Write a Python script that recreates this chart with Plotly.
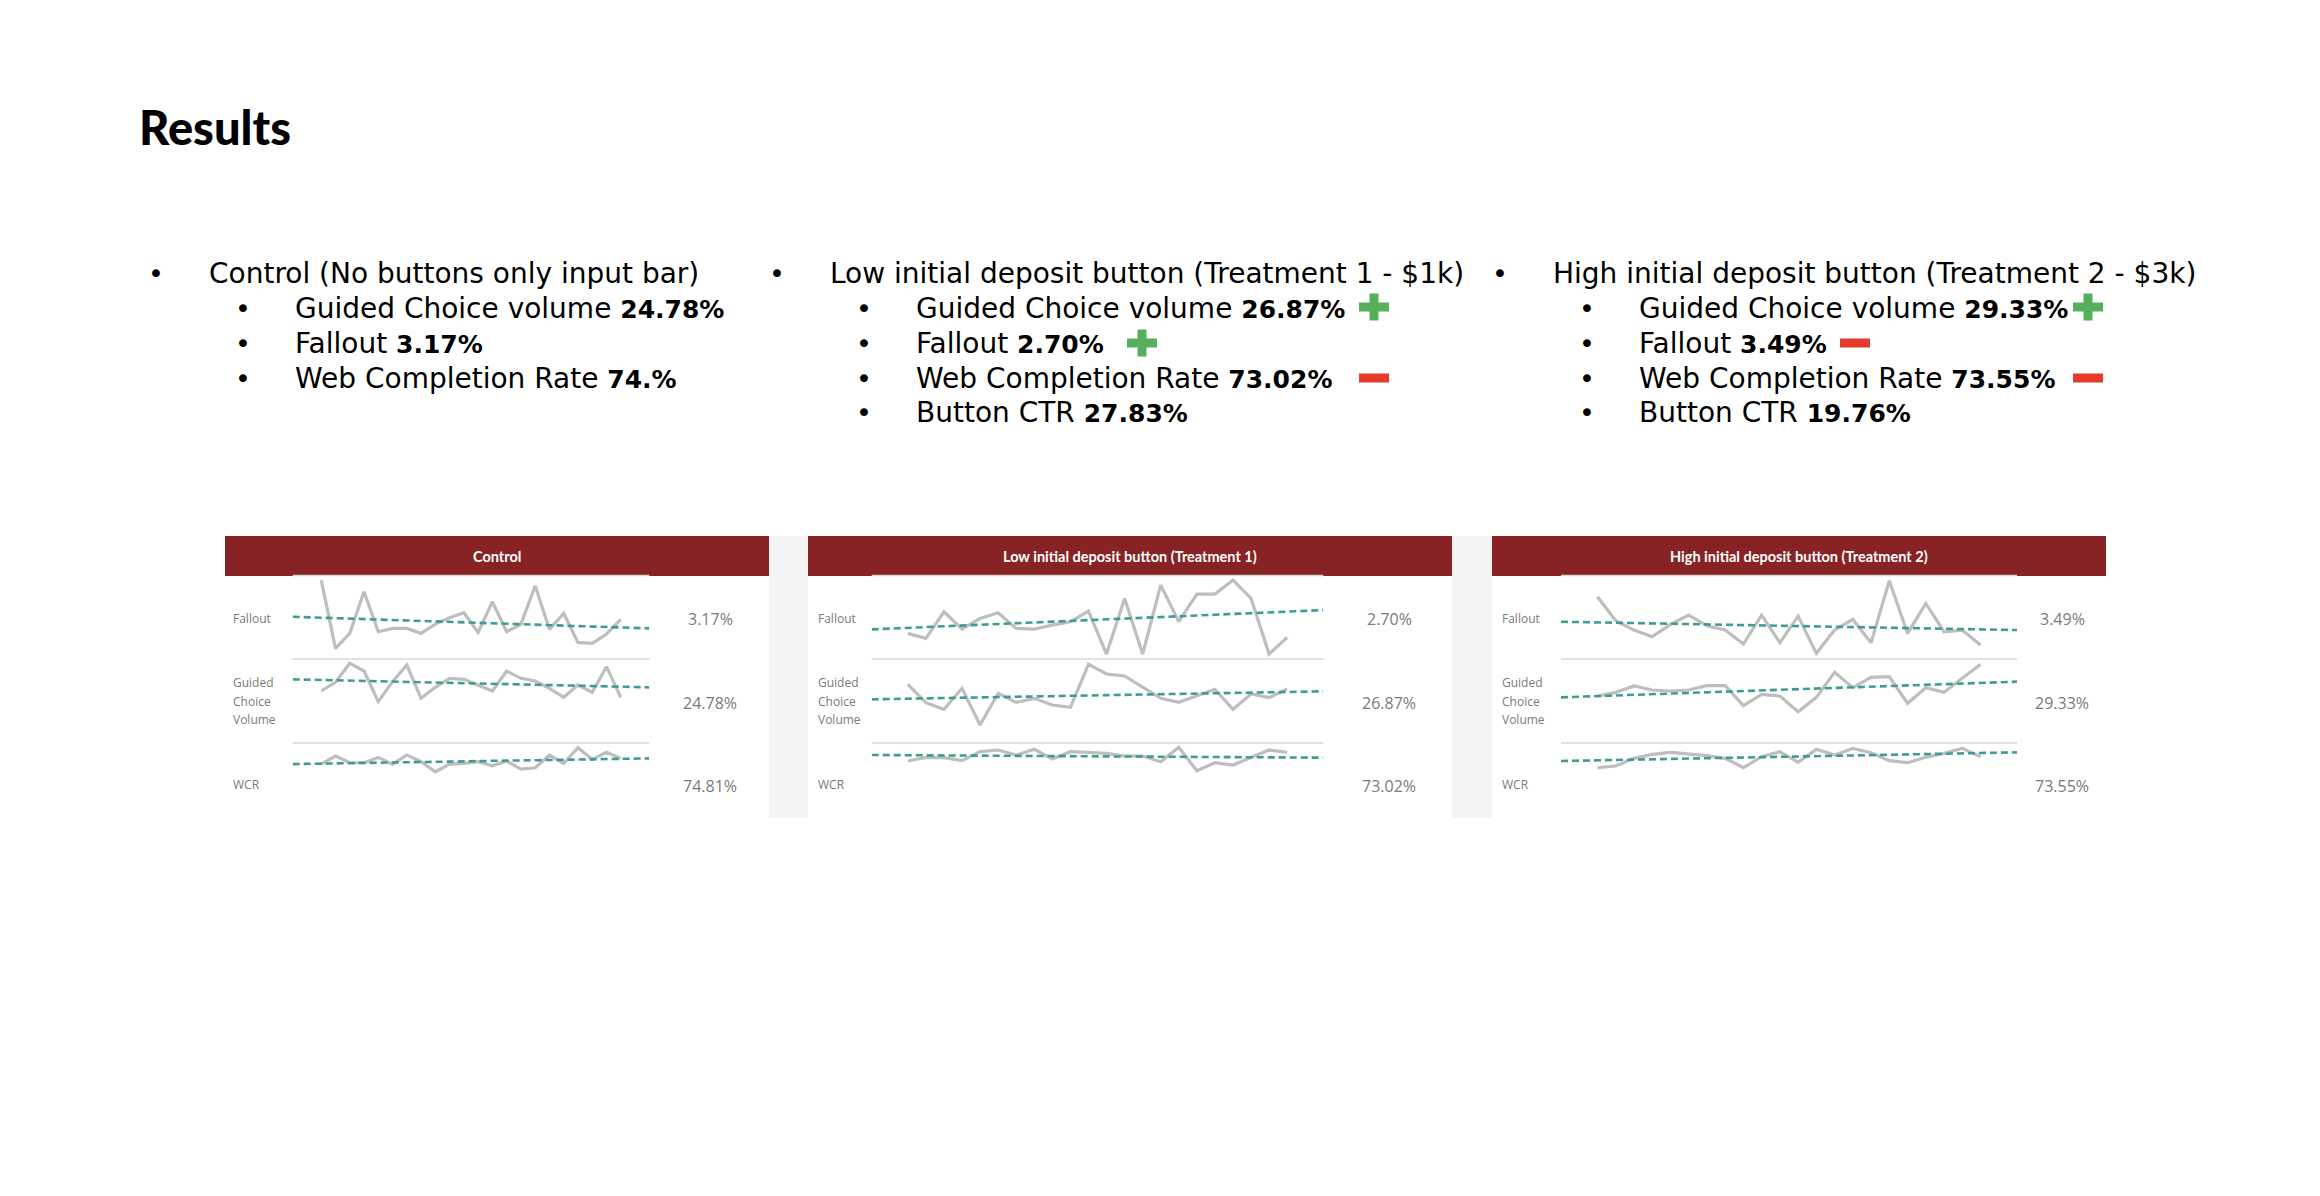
import plotly.graph_objects as go

# page size; the html body keeps its default 8px margin
W, H = 2320, 1196
PAD = 8


def px(x):
    return (x - PAD) / (W - 2 * PAD)


def py(y):
    return 1 - (y - PAD) / (H - 2 * PAD)


# ---- data -----------------------------------------------------------------
days = list(range(1, 23))
x_range = [-1, 24]

fallout_ctrl = [5.70, 1.60, 2.50, 5.00, 2.60, 2.80, 2.80, 2.50, 3.06, 3.44, 3.74,
                2.56, 4.40, 2.60, 3.04, 5.36, 2.74, 3.70, 1.96, 1.90, 2.46, 3.34]
gcv_ctrl = [24.34, 24.86, 26.00, 25.54, 23.70, 24.90, 25.90, 23.90, 24.56, 25.10, 25.04,
            24.70, 24.34, 25.54, 25.10, 24.94, 24.50, 23.96, 24.70, 24.26, 25.80, 23.96]
wcr_ctrl = [74.76, 75.24, 74.84, 74.84, 75.16, 74.74, 75.30, 74.90, 74.30, 74.76, 74.80,
            74.90, 74.66, 74.94, 74.46, 74.54, 75.30, 74.80, 75.74, 75.04, 75.46, 75.10]

fallout_t1 = [1.90, 1.60, 3.20, 2.16, 2.80, 3.14, 2.20, 2.16, 2.40, 2.60, 3.24,
              0.66, 4.00, 0.66, 4.80, 2.60, 4.26, 4.26, 5.10, 4.00, 0.66, 1.66]
gcv_t1 = [27.54, 26.44, 26.04, 27.30, 25.10, 27.00, 26.46, 26.70, 26.30, 26.16, 28.74,
          28.16, 28.04, 27.36, 26.70, 26.46, 26.84, 27.24, 26.04, 26.96, 26.74, 27.26]
wcr_t1 = [72.74, 72.96, 72.94, 72.76, 73.30, 73.40, 73.10, 73.44, 72.86, 73.30, 73.26,
          73.20, 73.04, 73.04, 72.70, 73.56, 72.16, 72.64, 72.50, 72.96, 73.40, 73.26]

fallout_t2 = [5.25, 3.81, 3.25, 2.85, 3.59, 4.15, 3.51, 3.25, 2.41, 4.15, 2.49,
              4.09, 1.85, 3.25, 3.89, 2.49, 6.21, 3.05, 4.85, 3.15, 3.25, 2.35]
gcv_t2 = [28.94, 29.16, 29.54, 29.30, 29.24, 29.30, 29.56, 29.56, 28.36, 29.04, 28.94,
          28.00, 28.86, 30.36, 29.44, 30.06, 30.10, 28.50, 29.44, 29.16, 30.00, 30.84]
wcr_t2 = [72.89, 72.99, 73.45, 73.69, 73.81, 73.71, 73.61, 73.45, 72.89, 73.55, 73.85,
          73.21, 73.99, 73.65, 74.05, 73.79, 73.31, 73.19, 73.51, 73.75, 74.05, 73.55]

# trend line values at the two ends of the x range
fallout_ctrl_trend = [3.50, 2.80]
gcv_ctrl_trend = [25.04, 24.56]
wcr_ctrl_trend = [74.76, 75.10]
fallout_t1_trend = [2.14, 3.30]
gcv_t1_trend = [26.64, 27.12]
wcr_t1_trend = [73.10, 72.94]
fallout_t2_trend = [3.75, 3.25]
gcv_t2_trend = [28.86, 29.80]
wcr_t2_trend = [73.29, 73.81]

panel_titles = ["Control", "Low initial deposit button (Treatment 1)",
                "High initial deposit button (Treatment 2)"]
row_labels = [["Fallout"], ["Guided", "Choice", "Volume"], ["WCR"]]
panel_values = [["3.17%", "24.78%", "74.81%"],
                ["2.70%", "26.87%", "73.02%"],
                ["3.49%", "29.33%", "73.55%"]]

bullet_heads = ["Control (No buttons only input bar)",
                "Low initial deposit button (Treatment 1 - $1k)",
                "High initial deposit button (Treatment 2 - $3k)"]
bullet_items = [
    [("Guided Choice volume", "24.78%"), ("Fallout", "3.17%"),
     ("Web Completion Rate", "74.%")],
    [("Guided Choice volume", "26.87%"), ("Fallout", "2.70%"),
     ("Web Completion Rate", "73.02%"), ("Button CTR", "27.83%")],
    [("Guided Choice volume", "29.33%"), ("Fallout", "3.49%"),
     ("Web Completion Rate", "73.55%"), ("Button CTR", "19.76%")],
]

series = [
    [(fallout_ctrl, fallout_ctrl_trend), (gcv_ctrl, gcv_ctrl_trend), (wcr_ctrl, wcr_ctrl_trend)],
    [(fallout_t1, fallout_t1_trend), (gcv_t1, gcv_t1_trend), (wcr_t1, wcr_t1_trend)],
    [(fallout_t2, fallout_t2_trend), (gcv_t2, gcv_t2_trend), (wcr_t2, wcr_t2_trend)],
]

# ---- layout geometry (page pixels) ----------------------------------------
panels = [
    dict(hx=(225, 769), cx=(292.7, 649.3), label_x=231, value_x=710,
         yr=[(0.96, 5.98), (21.22, 26.26), (71.0, 76.02)]),
    dict(hx=(808, 1452), cx=(871.7, 1323.3), label_x=816, value_x=1389,
         yr=[(0.36, 5.38), (24.02, 29.06), (68.78, 73.82)]),
    dict(hx=(1492, 2106), cx=(1561, 2017), label_x=1500, value_x=2062,
         yr=[(1.51, 6.53), (26.12, 31.16), (69.33, 74.37)]),
]
row_bands = [(575.5, 659), (659, 743), (743, 827)]
label_y = [618, 701, 784]
value_y = [619, 703, 786]

RED = "#872324"
LINE = "#BEBEBE"
TEAL = "#3F9C95"
TXT = "#7A7A7A"


def note(x, y, text, font, xanchor="left"):
    return dict(xref="paper", yref="paper", x=px(x), y=py(y), text=text,
                xanchor=xanchor, yanchor="middle", showarrow=False, font=font)


fig = go.Figure()
shapes = []
annotations = []
layout_axes = {}

n = 0
for p, panel in enumerate(panels):
    hx0, hx1 = panel["hx"]
    cx0, cx1 = panel["cx"]
    shapes.append(dict(type="rect", xref="paper", yref="paper", x0=px(hx0), x1=px(hx1),
                       y0=py(576), y1=py(536), fillcolor=RED, line_width=0, layer="below"))
    annotations.append(note((hx0 + hx1) / 2, 556, "<b>" + panel_titles[p] + "</b>",
                            dict(family="Lato", size=14.5, color="white"), "center"))
    for r in range(3):
        n += 1
        top, bottom = row_bands[r]
        layout_axes["xaxis%d" % n] = dict(domain=[px(cx0), px(cx1)], range=x_range,
                                          visible=False, fixedrange=True,
                                          anchor="y%d" % n)
        layout_axes["yaxis%d" % n] = dict(domain=[py(bottom), py(top)],
                                          range=list(panel["yr"][r]), visible=False,
                                          fixedrange=True, anchor="x%d" % n)
        vals, trend = series[p][r]
        fig.add_trace(go.Scatter(x=days, y=vals, mode="lines",
                                 line=dict(color=LINE, width=3.2),
                                 xaxis="x%d" % n, yaxis="y%d" % n, hoverinfo="skip"))
        fig.add_trace(go.Scatter(x=x_range, y=trend, mode="lines",
                                 line=dict(color=TEAL, width=2.6, dash="7px,4px"),
                                 xaxis="x%d" % n, yaxis="y%d" % n, hoverinfo="skip"))
        # separator line at the top of each row
        shapes.append(dict(type="line", xref="paper", yref="paper", x0=px(cx0), x1=px(cx1),
                           y0=py(top), y1=py(top), line=dict(color="#D8D8D8", width=1.5)))
        lines = row_labels[r]
        for k, word in enumerate(lines):
            annotations.append(note(panel["label_x"],
                                    label_y[r] + (k - (len(lines) - 1) / 2) * 18.7, word,
                                    dict(family="Open Sans", size=12, color=TXT)))
        annotations.append(note(panel["value_x"], value_y[r], panel_values[p][r],
                                dict(family="Open Sans", size=16, color=TXT), "center"))

# light strips between the panels
for sx0, sx1 in [(769, 808), (1452, 1492)]:
    shapes.append(dict(type="rect", xref="paper", yref="paper", x0=px(sx0), x1=px(sx1),
                       y0=py(818), y1=py(536), fillcolor="#F3F4F3", line_width=0,
                       layer="below"))

# slide border on the right
shapes.append(dict(type="line", xref="paper", yref="paper", x0=px(2313), x1=px(2313),
                   y0=0, y1=1, line=dict(color="#D9D9D9", width=2)))

# title
annotations.append(note(137, 127, "Results",
                        dict(family="Lato", size=47, color="black", weight=900)))

# bullet lists
bullet_x = [156, 777, 1500]
head_x = [207, 828, 1551]
sub_bullet_x = [243, 864, 1587]
sub_x = [293, 914, 1637]
row0_y = 273
row_step = 35
BODY = dict(family="DejaVu Sans", size=28, color="black")
BULLET = dict(family="DejaVu Sans", size=27, color="black")

for c in range(3):
    annotations.append(note(bullet_x[c], row0_y, "•", BULLET, "center"))
    annotations.append(note(head_x[c], row0_y, bullet_heads[c], BODY))
    for k, (name, val) in enumerate(bullet_items[c]):
        yy = row0_y + row_step * (k + 1)
        annotations.append(note(sub_bullet_x[c], yy, "•", BULLET, "center"))
        annotations.append(note(sub_x[c], yy,
                                name + ' <b><span style="font-size:25px">' + val
                                + "</span></b>", BODY))

# plus / minus markers next to the treatment results
GREEN = "#55AF5B"
MINUS = "#E53A2C"
icons = [("plus", 1374, 307), ("plus", 1142, 343), ("minus", 1374, 378),
         ("plus", 2088, 307), ("minus", 1855, 343), ("minus", 2088, 378)]
for kind, ix, iy in icons:
    shapes.append(dict(type="rect", xref="paper", yref="paper", x0=px(ix - 15), x1=px(ix + 15),
                       y0=py(iy + 4.5), y1=py(iy - 4.5),
                       fillcolor=GREEN if kind == "plus" else MINUS, line_width=0))
    if kind == "plus":
        shapes.append(dict(type="rect", xref="paper", yref="paper", x0=px(ix - 4.5),
                           x1=px(ix + 4.5), y0=py(iy + 13.5), y1=py(iy - 13.5),
                           fillcolor=GREEN, line_width=0))

fig.update_layout(
    width=W - 2 * PAD,
    height=H - 2 * PAD,
    margin=dict(l=0, r=0, t=0, b=0),
    paper_bgcolor="white",
    plot_bgcolor="rgba(0,0,0,0)",
    showlegend=False,
    shapes=shapes,
    annotations=annotations,
    **layout_axes,
)

fig.write_html("out.html")
